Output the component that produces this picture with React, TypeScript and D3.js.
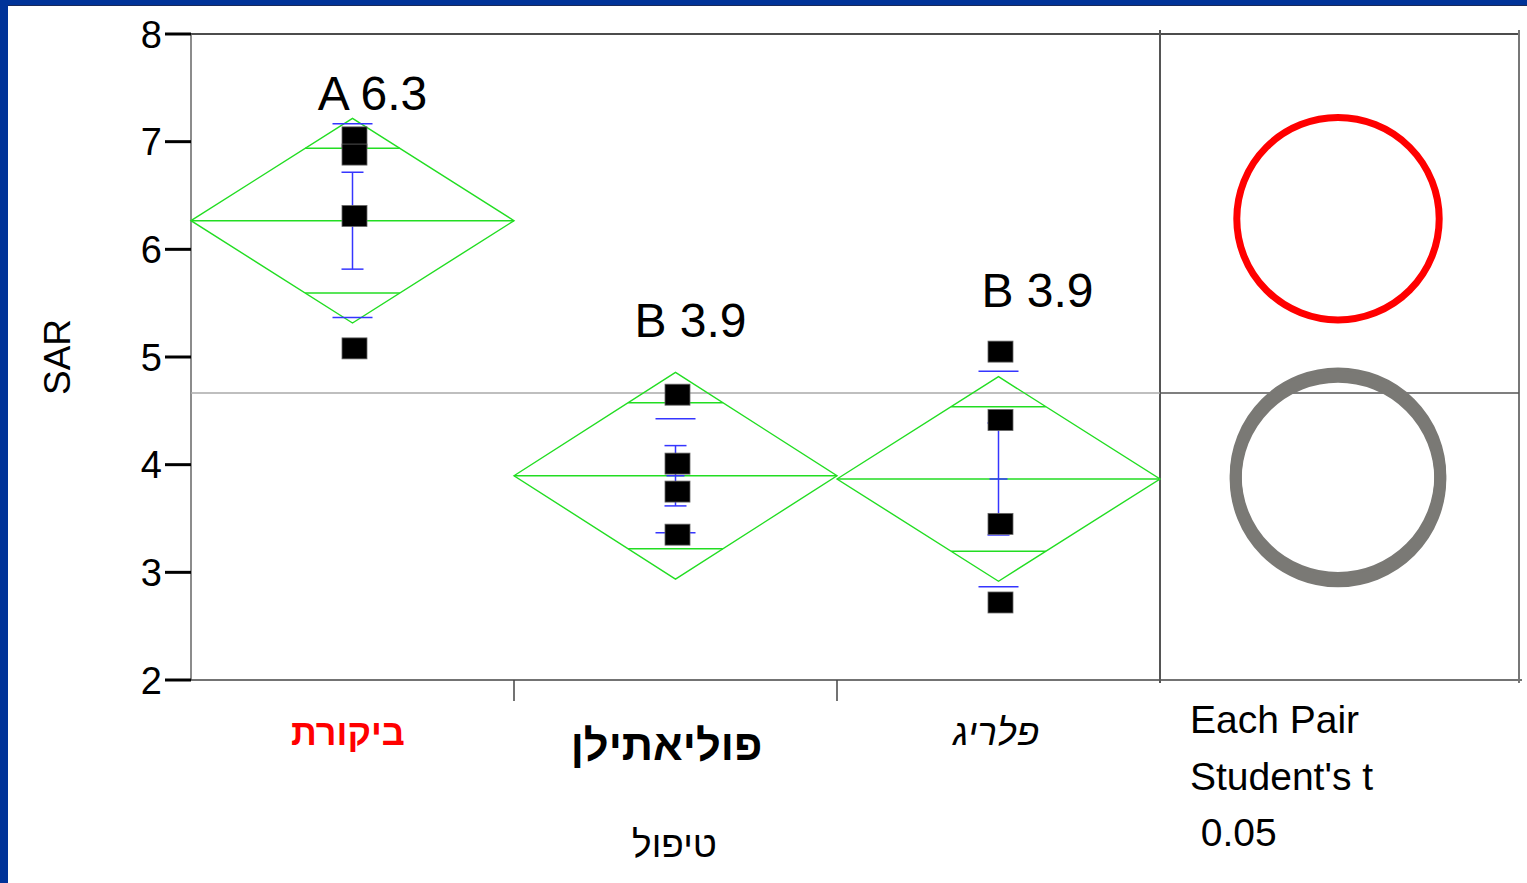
import React from "react";
import * as d3 from "d3";

// ---- data ----
const categories = ["ביקורת", "פוליאתילן", "פלריג"];
const pointsControl = [7.04, 6.88, 6.31, 5.08];
const pointsPoly = [4.65, 4.01, 3.75, 3.35];
const pointsPlrg = [5.05, 4.415, 3.45, 2.72];
const groupPoints = [pointsControl, pointsPoly, pointsPlrg];
const means = [6.266, 3.897, 3.867];
const ciHalf = [0.95, 0.96, 0.95];
const sdValues = [0.9, 0.53, 1.0];
const seValues = [0.45, 0.28, 0.52];
const groupLetters = ["A", "B", "B"];
const meanLabels = ["6.3", "3.9", "3.9"];
const circleRadius = [0.94, 0.95, 0.95];
const grandMean = 4.666;
const yTicks = [2, 3, 4, 5, 6, 7, 8];
const yLabel = "SAR";
const xLabel = "טיפול";
const testLines = ["Each Pair", "Student's t", " 0.05"];

// ---- layout ----
const W = 1527;
const H = 883;
const left = 191;
const mainRight = 1160;
const panelRight = 1519;
const top = 34;
const bottom = 680;
const FONT = "'Liberation Sans', Arial, 'DejaVu Sans', sans-serif";

const labelBaseline = [7.29, 5.19, 5.46];
const labelDx = [20, 15, 39];
const catStyles = [
  { fill: "#ff0000", weight: "bold", style: "normal", size: 36, y: 745, dx: -4.5 },
  { fill: "#000", weight: "bold", style: "normal", size: 43.5, y: 760, dx: -9 },
  { fill: "#000", weight: "normal", style: "italic", size: 37, y: 745, dx: -2.5 },
];

export default function App() {
  const x = d3.scaleBand<string>().domain(categories).range([left, mainRight]).padding(0);
  const y = d3.scaleLinear().domain([2, 8]).range([bottom, top]);
  const bw = x.bandwidth();
  const green = "#22dd22";
  const blue = "#3535ff";
  const circleCx = 1338;

  return (
    <svg
      width={W}
      height={H}
      style={{ position: "absolute", left: 0, top: 0, background: "#fff" }}
      fontFamily={FONT}
    >
      <rect x={0} y={0} width={W} height={H} fill="#fff" />
      {/* slide border */}
      <rect x={0} y={0} width={W} height={5} fill="#003399" />
      <rect x={0} y={0} width={8} height={H} fill="#003399" />
      <line x1={8} x2={W} y1={5.5} y2={5.5} stroke="#1a2a5a" strokeWidth={1} />

      {/* frame */}
      <line x1={left} x2={panelRight} y1={top} y2={top} stroke="#111" strokeWidth={1.5} />
      <line x1={left} x2={left} y1={top} y2={bottom} stroke="#666" strokeWidth={1.5} />
      <line x1={left} x2={1522} y1={bottom} y2={bottom} stroke="#444" strokeWidth={1.5} />
      <line x1={mainRight} x2={mainRight} y1={30} y2={683} stroke="#555" strokeWidth={2} />
      <line x1={panelRight} x2={panelRight} y1={30} y2={683} stroke="#777" strokeWidth={2} />
      {categories.slice(1).map((c) => (
        <line key={c} x1={x(c)!} x2={x(c)!} y1={bottom} y2={701} stroke="#444" strokeWidth={1.5} />
      ))}

      {/* y axis */}
      {yTicks.map((t) => (
        <g key={t}>
          <line x1={165} x2={left} y1={y(t)} y2={y(t)} stroke="#000" strokeWidth={3} />
          <text x={162} y={y(t)} dy="0.36em" textAnchor="end" fontSize={38} fill="#000">
            {t}
          </text>
        </g>
      ))}
      <text transform={`translate(70, 357) rotate(-90)`} textAnchor="middle" fontSize={37} fill="#000">
        {yLabel}
      </text>

      {/* grand mean */}
      <line x1={left} x2={mainRight} y1={y(grandMean)} y2={y(grandMean)} stroke="#aaa" strokeWidth={1.5} />
      <line x1={mainRight} x2={panelRight} y1={y(grandMean)} y2={y(grandMean)} stroke="#555" strokeWidth={1.5} />

      {/* diamonds */}
      {categories.map((c, i) => {
        const x0 = x(c)!;
        const x1 = x0 + bw;
        const cx = x0 + bw / 2;
        const m = means[i];
        const h = ciHalf[i];
        const ov = (h * Math.SQRT2) / 2;
        const ovHalfW = (bw / 2) * (1 - ov / h);
        const path = d3.path();
        path.moveTo(x0, y(m));
        path.lineTo(cx, y(m + h));
        path.lineTo(x1, y(m));
        path.lineTo(cx, y(m - h));
        path.closePath();
        return (
          <g key={c}>
            <path d={path.toString()} fill="none" stroke={green} strokeWidth={1.4} />
            <line x1={x0} x2={x1} y1={y(m)} y2={y(m)} stroke={green} strokeWidth={1.5} />
            {[m + ov, m - ov].map((v, k) => (
              <line key={k} x1={cx - ovHalfW} x2={cx + ovHalfW} y1={y(v)} y2={y(v)} stroke={green} strokeWidth={1.5} />
            ))}
            {/* std dev lines */}
            {[m + sdValues[i], m - sdValues[i]].map((v, k) => (
              <line key={"sd" + k} x1={cx - 20} x2={cx + 20} y1={y(v)} y2={y(v)} stroke={blue} strokeWidth={1.5} />
            ))}
            {/* mean error bars */}
            <line x1={cx} x2={cx} y1={y(m + seValues[i])} y2={y(m - seValues[i])} stroke={blue} strokeWidth={1.5} />
            {[m + seValues[i], m - seValues[i]].map((v, k) => (
              <line key={"se" + k} x1={cx - 11} x2={cx + 11} y1={y(v)} y2={y(v)} stroke={blue} strokeWidth={1.5} />
            ))}
            <line x1={cx - 9} x2={cx + 9} y1={y(m)} y2={y(m)} stroke={blue} strokeWidth={1.5} />
            {/* points */}
            {groupPoints[i].map((p, k) => (
              <rect
                key={"p" + k}
                x={cx + 2 - 12.5}
                y={y(p) - 10.5}
                width={25}
                height={21}
                fill="#000"
                stroke="#666"
                strokeWidth={0.8}
              />
            ))}
            {/* group label */}
            <text x={cx + labelDx[i]} y={y(labelBaseline[i])} textAnchor="middle" fontSize={48} fill="#000">
              {groupLetters[i] + " " + meanLabels[i]}
            </text>
            {/* category label */}
            <text
              x={cx + catStyles[i].dx}
              y={catStyles[i].y}
              textAnchor="middle"
              fontSize={catStyles[i].size}
              fontWeight={catStyles[i].weight}
              fontStyle={catStyles[i].style}
              fill={catStyles[i].fill}
              direction="rtl"
            >
              {c}
            </text>
          </g>
        );
      })}

      {/* comparison circles */}
      {categories.map((c, i) => (
        <circle
          key={"c" + c}
          cx={circleCx}
          cy={y(means[i]) - (i === 0 ? 2 : 0)}
          r={y(0) - y(circleRadius[i])}
          fill="none"
          stroke={i === 0 ? "#ff0000" : "#7a7975"}
          strokeWidth={i === 0 ? 7 : 12}
        />
      ))}

      {/* x label */}
      <text x={674.5} y={857} textAnchor="middle" fontSize={37} fill="#000" direction="rtl">
        {xLabel}
      </text>

      {/* test description */}
      {testLines.map((t, k) => (
        <text key={k} x={1190} y={733 + k * 56.5} fontSize={39} fill="#000" style={{ whiteSpace: "pre" }}>
          {t}
        </text>
      ))}
    </svg>
  );
}
